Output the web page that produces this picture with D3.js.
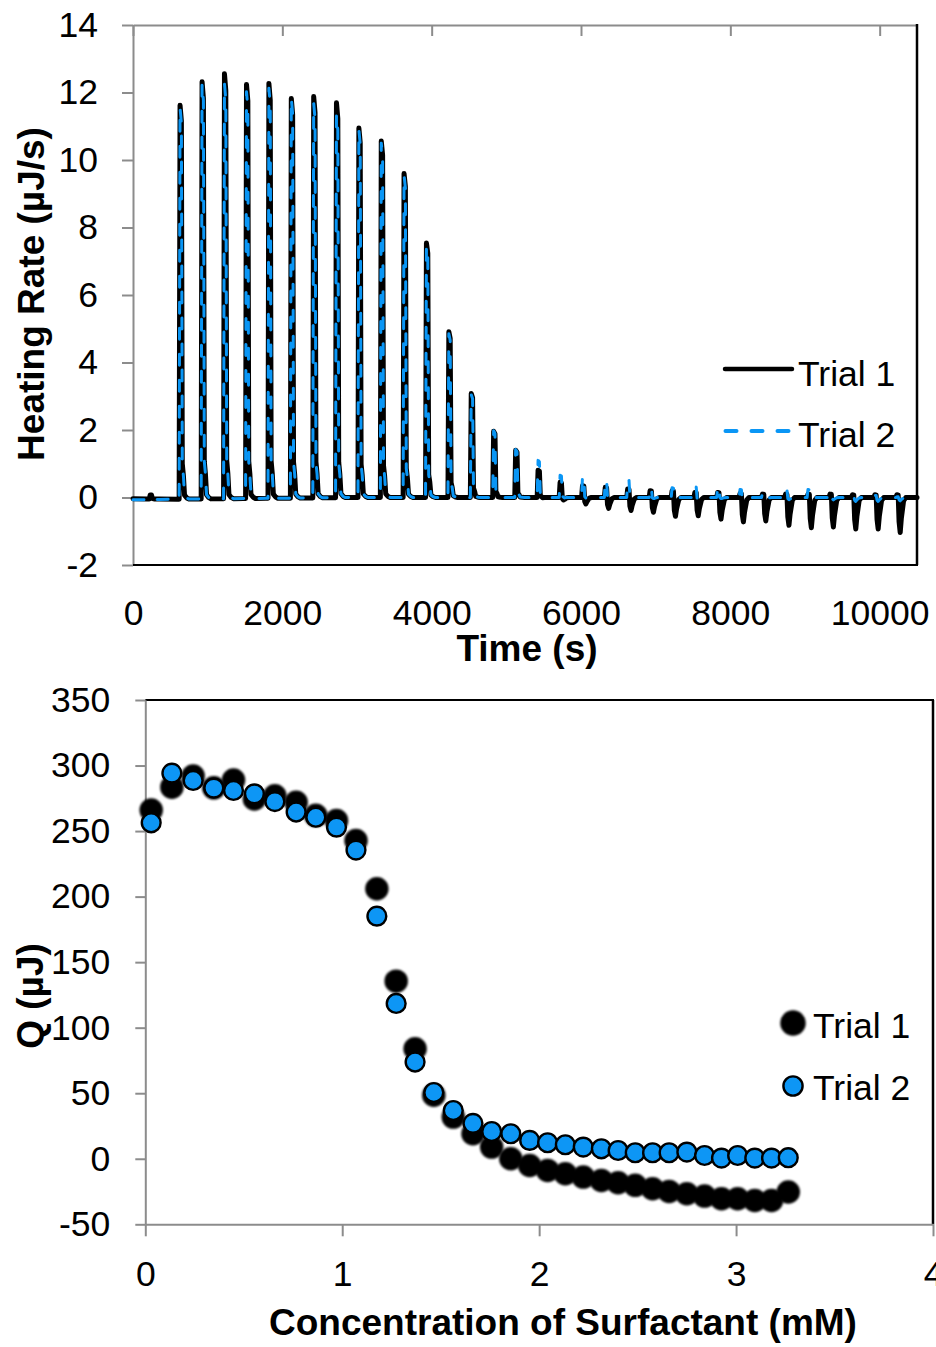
<!DOCTYPE html>
<html><head><meta charset="utf-8">
<script src="https://cdn.jsdelivr.net/npm/d3@7"></script>
<style>
html,body{margin:0;padding:0;background:#fff;}
svg text{font-family:"Liberation Sans",Arial,Helvetica,sans-serif;fill:#000;}
</style></head><body>
<svg id="chart" width="936" height="1347"></svg>
<script>
// ---------- Top panel data: ITC thermogram ----------
const injectionTimes = [230, 630, 925, 1225, 1520, 1820, 2120, 2420, 2725, 3025, 3325, 3630, 3930, 4230, 4530, 4830, 5125, 5425, 5720, 6020, 6325, 6625, 6925, 7220, 7525, 7830, 8130, 8430, 8740, 9040, 9335, 9635, 9935, 10230];
const trial1Peak = [0.12, 11.67, 12.36, 12.59, 12.27, 12.29, 11.84, 11.89, 11.7, 10.95, 10.56, 9.6, 7.54, 4.91, 3.08, 1.96, 1.4, 0.81, 0.45, 0.35, 0.3, 0.25, 0.2, 0.2, 0.15, 0.15, 0.12, 0.1, 0.1, 0.1, 0.1, 0.08, 0.08, 0.08];
const trial2Peak = [0.05, 11.6, 12.3, 12.3, 12.05, 12.15, 11.85, 11.7, 11.35, 10.9, 10.5, 9.55, 7.45, 4.85, 3.05, 1.98, 1.42, 1.1, 0.66, 0.63, 0.51, 0.53, 0.29, 0.29, 0.32, 0.32, 0.24, 0.14, 0.24, 0.24, 0.14, 0.06, 0.06, 0.02];
const trial1Dip = [0, 0, 0, 0, 0, 0, 0, 0, 0, 0, 0, 0, 0, 0, 0, 0, 0, -0.02, -0.1, -0.21, -0.34, -0.4, -0.45, -0.57, -0.55, -0.65, -0.73, -0.7, -0.83, -0.9, -0.88, -0.94, -0.94, -1.04];
const trial2Dip = [0, 0, 0, 0, 0, 0, 0, 0, 0, 0, 0, 0, 0, 0, 0, 0, 0, 0, -0.03, -0.05, -0.05, -0.05, -0.05, -0.05, -0.08, -0.05, -0.08, -0.05, -0.08, -0.05, -0.08, -0.12, -0.12, -0.1];
const baselineTimes = [0, 600, 3000, 10500];
const trial1Baseline = [-0.04, -0.05, 0, 0];
const trial2Baseline = [-0.07, -0.05, 0, 0];
// shape of one injection (offset in s, fraction of peak / dip)
const profileOffsets = [-40, -12, 0, 18, 30, 45, 60, 90, 120];
const peakProfile = [0, 0, 1, 0.96, 0.09, 0.06, 0.01, 0.003, 0];
const dipProfile = [0, 0, 0, 0, 0.7, 1, 0.6, 0.1, 0];
const timeTicks = [0, 2000, 4000, 6000, 8000, 10000];
const rateTicks = [-2, 0, 2, 4, 6, 8, 10, 12, 14];

// ---------- Bottom panel data: integrated heats ----------
const concentration = [0.03, 0.135, 0.243, 0.348, 0.448, 0.554, 0.658, 0.766, 0.866, 0.971, 1.07, 1.176, 1.274, 1.37, 1.465, 1.564, 1.664, 1.759, 1.856, 1.952, 2.043, 2.133, 2.224, 2.316, 2.401, 2.488, 2.576, 2.66, 2.75, 2.84, 2.926, 3.008, 3.095, 3.18, 3.265];
const trial1Q = [266, 283.5, 292, 283, 289, 274.5, 277, 272, 262, 258, 242.8, 206, 135.5, 83.9, 48.5, 31.8, 19.1, 8.9, 0, -5.1, -8.9, -11.4, -14, -16.5, -18.3, -20.3, -22.9, -24.9, -26.7, -28.5, -30.5, -30.5, -31.8, -31.8, -25.4];
const trial2Q = [256.3, 294.2, 288.6, 282.8, 281, 278.4, 272.5, 264.5, 260.6, 253, 235.5, 185.1, 118.5, 73.8, 50.5, 36.8, 27, 20.8, 19.1, 14, 12.2, 10.7, 8.9, 7.6, 6.3, 4.6, 4.6, 4.6, 5.1, 2.5, 0.5, 2.5, 0.5, 0.5, 0.8];
const concTicks = [0, 1, 2, 3, 4];
const qTicks = [-50, 0, 50, 100, 150, 200, 250, 300, 350];
const seriesNames = ["Trial 1", "Trial 2"];

// ---------- styles ----------
const BLUE = "#0A96F5";
const GRAY = "#8c8c8c";
const TICKFONT = 35.5, TITLEFONT = 37;

const svg = d3.select("#chart");
const defs = svg.append("defs");
defs.append("filter").attr("id", "soft").attr("x", "-50%").attr("y", "-50%").attr("width", "200%").attr("height", "200%")
  .append("feGaussianBlur").attr("stdDeviation", 1.0);
defs.append("filter").attr("id", "soft2").attr("x", "-50%").attr("y", "-50%").attr("width", "200%").attr("height", "200%")
  .append("feGaussianBlur").attr("stdDeviation", 0.5);

function styleAxis(g, color) {
  g.select(".domain").attr("stroke", color).attr("stroke-width", 2);
  g.selectAll(".tick line").attr("stroke", color).attr("stroke-width", 2);
  g.selectAll(".tick text").attr("font-size", TICKFONT).attr("font-family", '"Liberation Sans",Arial,sans-serif').attr("fill", "#000");
}
const fmt = d => String(d);

// ================= TOP PANEL =================
const xT = d3.scaleLinear().domain([0, 10500]).range([133, 917]);
const yT = d3.scaleLinear().domain([-2, 14]).range([565, 25]);

function trace(peaks, dips, base) {
  const bl = d3.scaleLinear().domain(baselineTimes).range(base).clamp(true);
  const pts = [[0, bl(0)]];
  injectionTimes.forEach((t0, i) => {
    profileOffsets.forEach((o, k) => {
      const t = t0 + o;
      pts.push([t, bl(t) + peaks[i] * peakProfile[k] + dips[i] * dipProfile[k]]);
    });
  });
  pts.push([10500, bl(10500)]);
  return pts;
}
const line = d3.line().x(d => xT(d[0])).y(d => yT(d[1]));

// left axis (gray)
svg.append("g").attr("transform", `translate(${xT(0)},0)`)
  .call(d3.axisLeft(yT).tickValues(rateTicks).tickFormat(fmt).tickSize(11).tickSizeOuter(0).tickPadding(24))
  .call(g => styleAxis(g, GRAY));
// top axis (gray, ticks inward, no labels)
svg.append("g").attr("transform", `translate(0,${yT(14)})`)
  .call(d3.axisTop(xT).tickValues(timeTicks).tickSize(-11).tickSizeOuter(0).tickFormat(""))
  .call(g => styleAxis(g, GRAY));
// bottom labels
svg.append("g").attr("transform", `translate(0,${yT(-2)})`)
  .call(d3.axisBottom(xT).tickValues(timeTicks).tickFormat(fmt).tickSize(0).tickPadding(35))
  .call(g => { styleAxis(g, GRAY); g.select(".domain").remove(); });
// black borders bottom & right
svg.append("line").attr("x1", xT(0)).attr("x2", xT(10500) + 1).attr("y1", yT(-2)).attr("y2", yT(-2)).attr("stroke", "#000").attr("stroke-width", 2.2);
svg.append("line").attr("x1", xT(10500)).attr("x2", xT(10500)).attr("y1", yT(14) - 1).attr("y2", yT(-2)).attr("stroke", "#000").attr("stroke-width", 2.5);

const t1 = trace(trial1Peak, trial1Dip, trial1Baseline);
const t2 = trace(trial2Peak, trial2Dip, trial2Baseline);
svg.append("path").datum(t1).attr("d", line).attr("fill", "none").attr("stroke", "#000").attr("stroke-width", 5).attr("stroke-linejoin", "round").attr("stroke-linecap", "round");
svg.append("path").datum(t2).attr("d", line).attr("fill", "none").attr("stroke", BLUE).attr("stroke-width", 3).attr("stroke-dasharray", "11,15").attr("stroke-linejoin", "round").attr("stroke-linecap", "round");

// legend top
const legT = svg.append("g");
[0, 1].forEach(i => {
  const y = i === 0 ? 369 : 431;
  const l = legT.append("line").attr("x1", 725).attr("x2", 792).attr("y1", y).attr("y2", y)
    .attr("stroke", i === 0 ? "#000" : BLUE).attr("stroke-width", i === 0 ? 4.5 : 4).attr("stroke-linecap", "round");
  if (i === 1) l.attr("stroke-dasharray", "11,15").attr("x1", 725.5);
  legT.append("text").attr("x", 798).attr("y", i === 0 ? 386 : 447).attr("font-size", TICKFONT).text(seriesNames[i]);
});

// titles top
svg.append("text").attr("x", 527).attr("y", 661).attr("text-anchor", "middle").attr("font-size", TITLEFONT).attr("font-weight", "bold").text("Time (s)");
svg.append("text").attr("transform", "translate(44,294) rotate(-90)").attr("text-anchor", "middle").attr("font-size", TITLEFONT).attr("font-weight", "bold").text("Heating Rate (µJ/s)");

// ================= BOTTOM PANEL =================
const xB = d3.scaleLinear().domain([0, 4]).range([145.3, 933]);
const yB = d3.scaleLinear().domain([-50, 350]).range([1224.3, 700]);

// borders top & right (black)
svg.append("line").attr("x1", xB(0)).attr("x2", xB(4) + 1).attr("y1", yB(350)).attr("y2", yB(350)).attr("stroke", "#000").attr("stroke-width", 2.2);
svg.append("line").attr("x1", xB(4)).attr("x2", xB(4)).attr("y1", yB(350)).attr("y2", yB(-50)).attr("stroke", "#000").attr("stroke-width", 2.5);
// axes gray
svg.append("g").attr("transform", `translate(${xB(0)},0)`)
  .call(d3.axisLeft(yB).tickValues(qTicks).tickFormat(fmt).tickSize(10).tickSizeOuter(0).tickPadding(25))
  .call(g => styleAxis(g, GRAY));
svg.append("g").attr("transform", `translate(0,${yB(-50)})`)
  .call(d3.axisBottom(xB).tickValues(concTicks).tickFormat(fmt).tickSize(12).tickSizeOuter(0).tickPadding(24))
  .call(g => styleAxis(g, GRAY));

const pts1 = concentration.map((c, i) => [c, trial1Q[i]]);
const pts2 = concentration.map((c, i) => [c, trial2Q[i]]);
svg.append("g").selectAll("circle").data(pts1).join("circle")
  .attr("cx", d => xB(d[0])).attr("cy", d => yB(d[1])).attr("r", 10.5)
  .attr("fill", "#000").attr("stroke", "#000").attr("stroke-width", 2.5).attr("filter", "url(#soft)");
svg.append("g").selectAll("circle").data(pts2).join("circle")
  .attr("cx", d => xB(d[0])).attr("cy", d => yB(d[1])).attr("r", 9.4)
  .attr("fill", BLUE).attr("stroke", "#000").attr("stroke-width", 2.4).attr("filter", "url(#soft2)");

// legend bottom
const legB = svg.append("g");
legB.append("circle").attr("cx", 793).attr("cy", 1023).attr("r", 11.5).attr("fill", "#000").attr("stroke", "#000").attr("stroke-width", 2.5).attr("filter", "url(#soft)");
legB.append("text").attr("x", 813).attr("y", 1038).attr("font-size", TICKFONT).text(seriesNames[0]);
legB.append("circle").attr("cx", 793).attr("cy", 1086).attr("r", 9.6).attr("fill", BLUE).attr("stroke", "#000").attr("stroke-width", 2.4).attr("filter", "url(#soft2)");
legB.append("text").attr("x", 813).attr("y", 1100).attr("font-size", TICKFONT).text(seriesNames[1]);

// titles bottom
svg.append("text").attr("x", 563).attr("y", 1335).attr("text-anchor", "middle").attr("font-size", TITLEFONT).attr("font-weight", "bold").text("Concentration of Surfactant (mM)");
svg.append("text").attr("transform", "translate(43,996) rotate(-90)").attr("text-anchor", "middle").attr("font-size", TITLEFONT).attr("font-weight", "bold").text("Q (µJ)");
</script>
</body></html>
